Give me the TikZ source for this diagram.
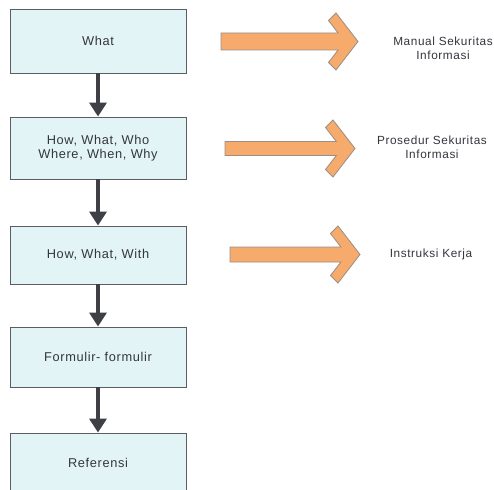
\documentclass[tikz,border=0pt]{standalone}
\usepackage{fontspec}
\setmainfont{Liberation Sans}
\newfontfamily\spacedfont{Liberation Sans}[LetterSpace=5]
\usetikzlibrary{arrows.meta}

\definecolor{boxfill}{HTML}{E2F4F6}
\definecolor{boxline}{HTML}{5A5E62}
\definecolor{flowgray}{HTML}{3E4046}
\definecolor{txtgray}{HTML}{34363E}
\definecolor{blockfill}{HTML}{F6AA6C}
\definecolor{blockline}{HTML}{9A8E86}

% Thick chevron-headed block arrow: left x, tip x, centre y, half shaft height
\newcommand\blockarrow[4]{%
  \draw[blockarrowstyle]
    (#1,{#3-#4}) -- ({#2-29.5+22*(21-#4)/28.5},{#3-#4})
    -- ({#2-29.5},{#3-21}) -- ({#2-22},{#3-28.5})
    -- (#2,#3)
    -- ({#2-22},{#3+28.5}) -- ({#2-29.5},{#3+21})
    -- ({#2-29.5+22*(21-#4)/28.5},{#3+#4}) -- (#1,{#3+#4}) -- cycle;}

\tikzset{
  stepbox/.style={draw=boxline, fill=boxfill, line width=0.9pt,
    minimum width=176pt, align=center, text=txtgray,
    font=\spacedfont\fontsize{12.8}{14}\selectfont},
  flow/.style={draw=flowgray, line width=4pt,
    -{Triangle[length=14pt,width=17pt]}},
  blockarrowstyle/.style={fill=blockfill, draw=blockline, line width=0.8pt,
    line join=miter},
  doclabel/.style={align=center, text=txtgray,
    font=\spacedfont\fontsize{11.8}{14.5}\selectfont}
}

\begin{document}
\begin{tikzpicture}[x=1pt,y=-1pt]
  \useasboundingbox (0,0) rectangle (494,489);
  \fill[white] (0,0) rectangle (494,489);
  \clip (0,0) rectangle (494,489);

  % document hierarchy
  \node[stepbox, minimum height=64pt] (what) at (98,41) {What};
  \node[stepbox, minimum height=62pt] (how) at (98,148)
    {How, What, Who\\Where, When, Why};
  \node[stepbox, minimum height=58pt] (with) at (98,255) {How, What, With};
  \node[stepbox, minimum height=60pt] (form) at (98,357) {Formulir- formulir};
  \node[stepbox, minimum height=60pt] (ref) at (98,463) {Referensi};

  \draw[flow] (what.south) -- (how.north);
  \draw[flow] (how.south) -- (with.north);
  \draw[flow] (with.south) -- (form.north);
  \draw[flow] (form.south) -- (ref.north);

  % resulting documents
  \blockarrow{221}{358}{41.5}{8.5}
  \blockarrow{225}{355}{148.5}{7}
  \blockarrow{230}{360}{254.5}{7.5}

  \node[doclabel] (manual) at (443,48.5) {Manual Sekuritas\\Informasi};
  \node[doclabel] (prosedur) at (432,147.5) {Prosedur Sekuritas\\Informasi};
  \node[doclabel] (instruksi) at (431,254) {Instruksi Kerja};
\end{tikzpicture}
\end{document}
